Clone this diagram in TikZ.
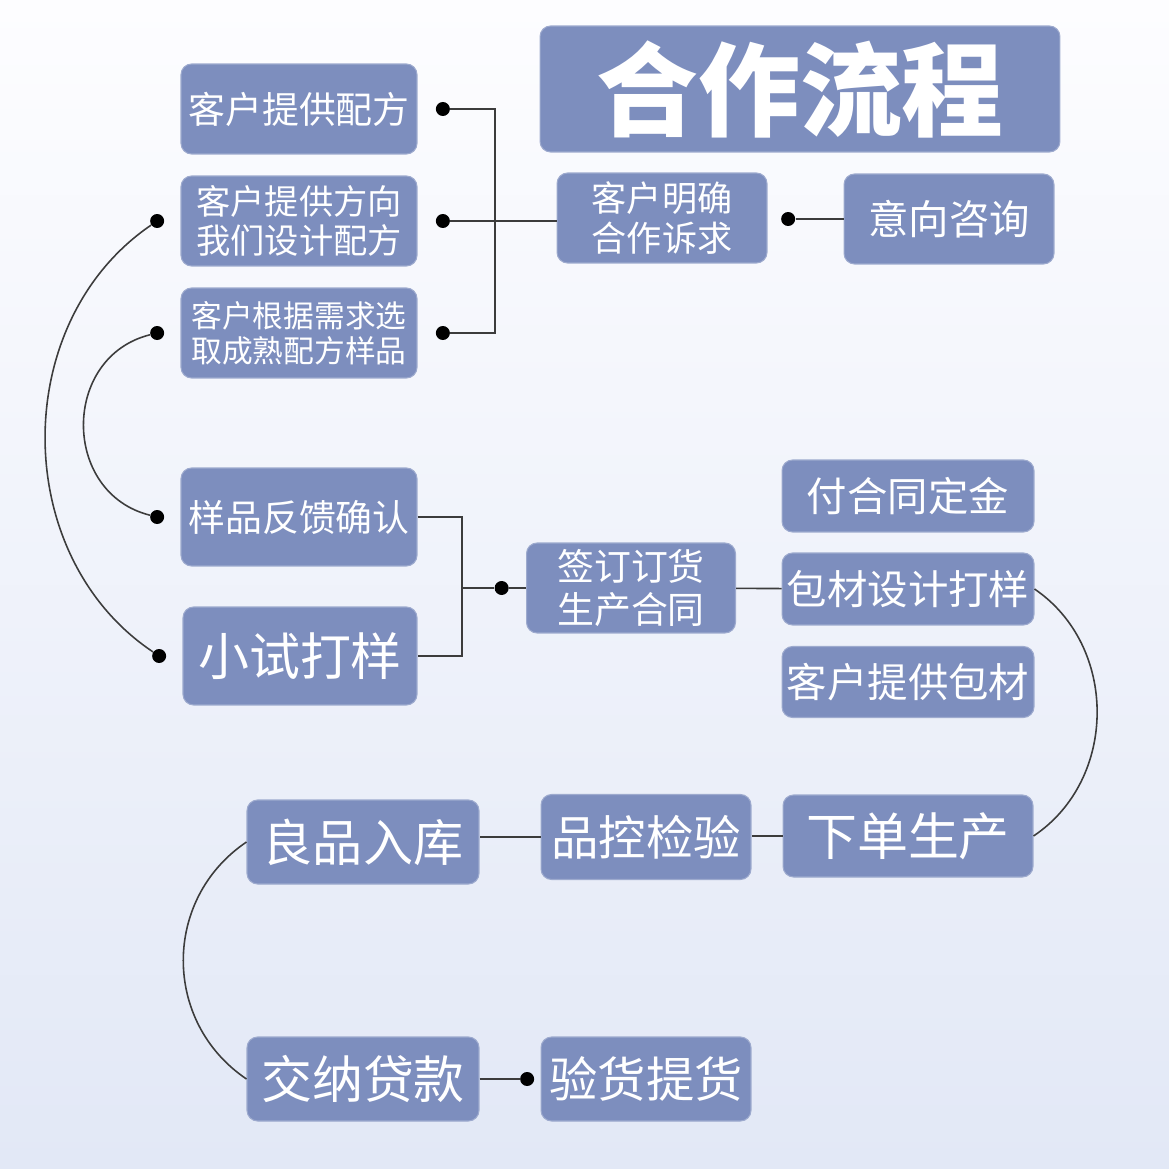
\documentclass[tikz,border=0pt]{standalone}
\usepackage{fontspec}
\newfontfamily\cjk{Noto Sans CJK SC}
\usetikzlibrary{positioning}
\definecolor{boxblue}{RGB}{125,142,190}
\definecolor{linegray}{RGB}{60,60,60}
\definecolor{bgtop}{RGB}{253,253,255}
\definecolor{bgbot}{RGB}{226,232,246}

\begin{document}
\begin{tikzpicture}[
    x=0.02cm, y=-0.02cm,
    box/.style={rectangle, fill=boxblue, draw=boxblue!75!white, line width=0.6pt, rounded corners=6pt, text=white, align=center, inner sep=0pt},
    sz/.style 2 args={font=\cjk\fontsize{#1}{#2}\selectfont},
    dot/.style={circle, fill=black, inner sep=0pt, minimum size=0.28cm},
    link/.style={draw=linegray, line width=0.9pt}
]
    % background
    \fill[top color=bgtop, bottom color=bgbot] (0,0) rectangle (1169,1169);

    % title
    \node[box, minimum width=10.4cm, minimum height=2.52cm, font=\cjk\bfseries\fontsize{58}{60}\selectfont] (title) at (800,89) {合作流程};

    % formula choices
    \node[box, minimum width=4.72cm, minimum height=1.8cm, sz={21}{25}] (peifang) at (299,109) {客户提供配方};
    \node[box, minimum width=4.72cm, minimum height=1.8cm, sz={19.5}{22.5}] (fangxiang) at (299,221) {客户提供方向\\我们设计配方};
    \node[box, minimum width=4.72cm, minimum height=1.8cm, sz={17.5}{20}] (yangpin) at (299,333) {客户根据需求选\\取成熟配方样品};
    \node[box, minimum width=4.2cm, minimum height=1.8cm, sz={20}{23}] (mingque) at (662,218) {客户明确\\合作诉求};
    \node[box, minimum width=4.2cm, minimum height=1.8cm, sz={23}{26}] (zixun) at (949,219) {意向咨询};

    % samples and contract
    \node[box, minimum width=4.72cm, minimum height=1.96cm, sz={21}{24}] (fankui) at (299,517) {样品反馈确认};
    \node[box, minimum width=4.68cm, minimum height=1.96cm, sz={29}{32}] (shishi) at (300,656) {小试打样};
    \node[box, minimum width=4.18cm, minimum height=1.8cm, sz={21}{24}] (hetong) at (631,588) {签订订货\\生产合同};
    \node[box, minimum width=5.04cm, minimum height=1.44cm, sz={23}{26}] (dingjin) at (908,496) {付合同定金};
    \node[box, minimum width=5.04cm, minimum height=1.44cm, sz={23}{26}] (baocai) at (908,589) {包材设计打样};
    \node[box, minimum width=5.04cm, minimum height=1.42cm, sz={23}{26}] (tigong) at (908,682) {客户提供包材};

    % production and delivery
    \node[box, minimum width=5cm, minimum height=1.64cm, sz={29}{32}] (xiadan) at (908,836) {下单生产};
    \node[box, minimum width=4.2cm, minimum height=1.7cm, sz={27}{30}] (pinkong) at (646,837) {品控检验};
    \node[box, minimum width=4.64cm, minimum height=1.68cm, sz={28.5}{31}] (ruku) at (363,842) {良品入库};
    \node[box, minimum width=4.64cm, minimum height=1.68cm, sz={29}{32}] (jiaona) at (363,1079) {交纳贷款};
    \node[box, minimum width=4.2cm, minimum height=1.68cm, sz={27.5}{30}] (tihuo) at (646,1079) {验货提货};

    % dots
    \node[dot, right=0.36cm of peifang] (d1) {};
    \node[dot, right=0.36cm of fangxiang] (d2) {};
    \node[dot, right=0.36cm of yangpin] (d3) {};
    \node[dot, left=0.96cm of zixun] (d4) {};
    \node[dot, left=0.32cm of fangxiang] (d5) {};
    \node[dot, left=0.32cm of yangpin] (d7) {};
    \node[dot, left=0.32cm of fankui] (d8) {};
    \node[dot, left=0.32cm of shishi] (d6) {};
    \node[dot, left=0.34cm of hetong] (d9) {};
    \node[dot, left=0.12cm of tihuo] (d10) {};
    \coordinate (jA) at (495,222);
    \coordinate (jB) at (462,588);

    % connectors
    \draw[link] (d1) -| (jA) |- (d3);
    \draw[link] (d2) -- (d2 -| mingque.west);
    \draw[link] (d4) -- (zixun);
    \draw[link] (d5) to[bend right=56, looseness=1.03] (d6);
    \draw[link] (d7) to[bend right=76, looseness=1.3] (d8);
    \draw[link] (fankui.east) -| (jB) |- (shishi.east);
    \draw[link] (jB) -- (d9);
    \draw[link] (d9) -- (hetong);
    \draw[link] (hetong) -- (baocai);
    \draw[link] (baocai.east) to[bend left=56, looseness=1.05] (xiadan.east);
    \draw[link] (xiadan) -- (xiadan -| pinkong.east);
    \draw[link] (pinkong.west) -- (pinkong.west -| ruku.east);
    \draw[link] (ruku.west) to[bend right=56, looseness=1.1] (jiaona.west);
    \draw[link] (jiaona) -- (d10);
\end{tikzpicture}
\end{document}
